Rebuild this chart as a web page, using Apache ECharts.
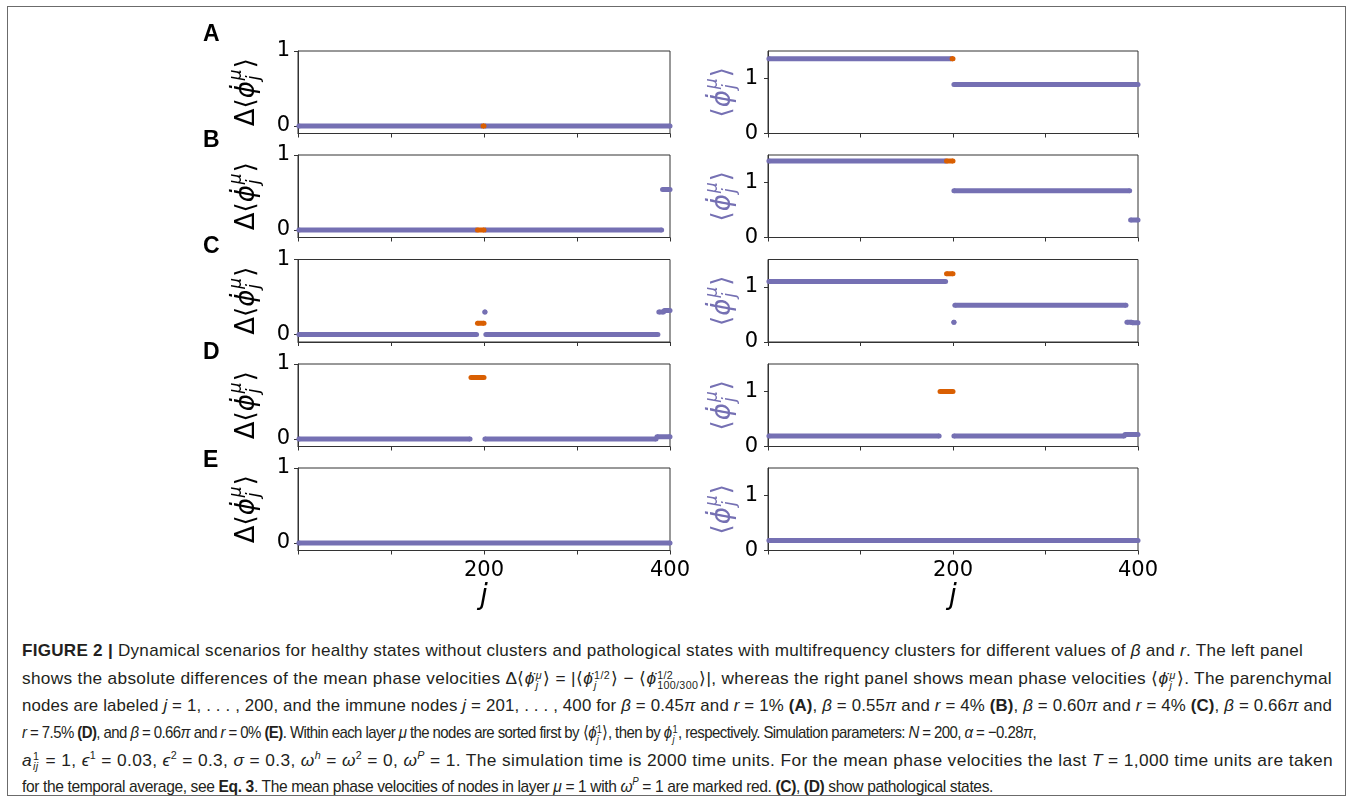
<!DOCTYPE html>
<html>
<head>
<meta charset="utf-8">
<script src="https://cdn.jsdelivr.net/npm/echarts@6/dist/echarts.min.js"></script>
<style>
  html, body { margin: 0; padding: 0; background: #fff; }
  #frame {
    position: absolute; left: 7px; top: 6px; width: 1339px; height: 790px;
    border: 1px solid #6b6b6b; box-sizing: border-box;
  }
  #chart { position: absolute; left: 0; top: 0; width: 1354px; height: 620px; }
  #caption {
    position: absolute; left: 22px; top: 638px;
    font-family: "Liberation Sans Narrow", "Liberation Sans", Arial, sans-serif;
    font-size: 17px; color: #231f20;
  }
  #caption .ln { position: absolute; left: 0; white-space: nowrap; transform-origin: 0 50%; }
  #caption b { font-weight: bold; }
  .ss { display: inline-flex; flex-direction: column; vertical-align: middle;
        font-size: 0.62em; line-height: 0.95; margin: 0 1px; text-align: left; }
  .sp { font-size: 0.62em; }
</style>
</head>
<body>
<div id="frame"></div>
<div id="chart"></div>
<div id="caption"></div>
<script>
// runs of sorted nodes: [first j, last j, value]
const diffBlueA = [[1, 198, 0], [201, 400, 0]];
const diffRedA = [[199, 200, 0]];
const velBlueA = [[1, 198, 1.36], [201, 400, 0.89]];
const velRedA = [[199, 200, 1.36]];

const diffBlueB = [[1, 192, 0], [201, 391, 0], [392, 400, 0.54]];
const diffRedB = [[193, 200, 0]];
const velBlueB = [[1, 192, 1.39], [201, 391, 0.85], [392, 400, 0.32]];
const velRedB = [[193, 200, 1.39]];

const diffBlueC = [[1, 192, 0], [201, 201, 0.30], [202, 387, 0], [388, 393, 0.30], [394, 400, 0.32]];
const diffRedC = [[193, 200, 0.15]];
const velBlueC = [[1, 192, 1.10], [201, 201, 0.36], [202, 387, 0.67], [388, 393, 0.36], [394, 400, 0.35]];
const velRedC = [[193, 200, 1.24]];

const diffBlueD = [[1, 185, 0], [201, 385, 0], [386, 400, 0.03]];
const diffRedD = [[186, 200, 0.82]];
const velBlueD = [[1, 185, 0.19], [201, 385, 0.19], [386, 400, 0.22]];
const velRedD = [[186, 200, 1.00]];

const diffBlueE = [[1, 400, 0]];
const diffRedE = [];
const velBlueE = [[1, 400, 0.18]];
const velRedE = [];

const panelLetters = ['A', 'B', 'C', 'D', 'E'];
const xTicks = [0, 100, 200, 300, 400];
const xTickLabels = ['', '', '200', '', '400'];
const diffTicks = [0, 1];
const velTicks = [0, 1];

const rows = [
  [diffBlueA, diffRedA, velBlueA, velRedA],
  [diffBlueB, diffRedB, velBlueB, velRedB],
  [diffBlueC, diffRedC, velBlueC, velRedC],
  [diffBlueD, diffRedD, velBlueD, velRedD],
  [diffBlueE, diffRedE, velBlueE, velRedE]
];

const BLUE = '#7570b3';
const RED = '#d95f02';
const AXIS = '#333';
const TICK_FONT = 'DejaVu Sans';

const rowTops = [51, 155, 259.5, 364, 468];
const rowH = 82.5;
const leftX = 298, leftW = 372;
const rightX = 768, rightW = 370;
const letterY = [34.5, 141, 246.5, 353, 461];

const chart = echarts.init(document.getElementById('chart'));

const grids = [], xAxes = [], yAxes = [], series = [], graphics = [];

function runSeries(runs, idx, color, z) {
  runs.forEach(r => {
    series.push({
      type: 'line',
      xAxisIndex: idx,
      yAxisIndex: idx,
      data: [[r[0], r[2]], [r[1], r[2]]],
      symbol: 'circle',
      symbolSize: 5,
      showSymbol: true,
      itemStyle: { color: color, borderWidth: 0 },
      lineStyle: { color: color, width: 5 },
      silent: true,
      animation: false,
      z: z
    });
  });
}

// measure pieces of the rotated y labels
const mctx = document.createElement('canvas').getContext('2d');
function tw(text, size, italic) {
  mctx.font = (italic ? 'italic ' : '') + size + 'px "' + TICK_FONT + '"';
  return mctx.measureText(text).width;
}

function yLabel(cx, cy, withDelta, color) {
  const big = 26, small = 17;
  const parts = [];
  let x = 0;
  const head = withDelta ? 'Δ⟨' : '⟨';
  parts.push({ text: head, x: x, y: 0, size: big, italic: false });
  x += tw(head, big, false);
  parts.push({ text: 'ϕ̇', x: x, y: 0, size: big, italic: true });
  x += tw('ϕ', big, true) + 1;
  parts.push({ text: 'μ', x: x, y: -10, size: small, italic: true });
  parts.push({ text: 'j', x: x, y: 8, size: small, italic: true });
  x += Math.max(tw('μ', small, true), tw('j', small, true)) + 1;
  parts.push({ text: '⟩', x: x, y: 0, size: big, italic: false });
  x += tw('⟩', big, false);
  const total = x;
  graphics.push({
    type: 'group',
    x: cx,
    y: cy,
    rotation: Math.PI / 2,
    silent: true,
    children: parts.map(p => ({
      type: 'text',
      x: p.x - total / 2,
      y: p.y,
      style: {
        text: p.text,
        fill: color,
        fontFamily: TICK_FONT,
        fontSize: p.size,
        fontStyle: p.italic ? 'italic' : 'normal',
        verticalAlign: 'middle',
        align: 'left'
      }
    }))
  });
}

rows.forEach((row, r) => {
  const bottom = r === rows.length - 1;
  [0, 1].forEach(side => {
    const idx = r * 2 + side;
    const isDiff = side === 0;
    grids.push({
      left: isDiff ? leftX : rightX,
      top: rowTops[r],
      width: isDiff ? leftW : rightW,
      height: rowH,
      show: true,
      borderColor: AXIS,
      borderWidth: 1,
      backgroundColor: 'transparent',
      containLabel: false
    });
    xAxes.push({
      type: 'value',
      gridIndex: idx,
      min: 0,
      max: 400,
      interval: 100,
      splitLine: { show: false },
      axisLine: { show: true, onZero: false, lineStyle: { color: AXIS, width: 1 } },
      axisTick: { show: true, length: 4, lineStyle: { color: AXIS } },
      axisLabel: {
        show: bottom,
        margin: 10,
        color: '#000',
        fontFamily: TICK_FONT,
        fontSize: 21,
        formatter: v => xTickLabels[xTicks.indexOf(v)] || ''
      },
      name: bottom ? 'j' : '',
      nameLocation: 'middle',
      nameGap: 32,
      nameTextStyle: { color: '#000', fontFamily: TICK_FONT, fontStyle: 'italic', fontSize: 28 }
    });
    const ticks = isDiff ? diffTicks : velTicks;
    yAxes.push({
      type: 'value',
      gridIndex: idx,
      min: isDiff ? -0.1 : 0,
      max: isDiff ? 1 : 1.5,
      splitLine: { show: false },
      axisLine: { show: true, onZero: false, lineStyle: { color: AXIS, width: 1 } },
      axisTick: { show: true, length: 4, customValues: ticks, lineStyle: { color: AXIS } },
      axisLabel: {
        show: true,
        customValues: ticks,
        margin: isDiff ? 8 : 10,
        color: '#000',
        fontFamily: TICK_FONT,
        fontSize: 21
      }
    });
    runSeries(isDiff ? row[0] : row[2], idx, BLUE, 2);
    runSeries(isDiff ? row[1] : row[3], idx, RED, 3);
    const cy = rowTops[r] + rowH / 2;
    if (isDiff) yLabel(247, cy, true, '#000');
    else yLabel(723, cy, false, BLUE);
  });
  graphics.push({
    type: 'text',
    x: 203,
    y: letterY[r],
    silent: true,
    style: {
      text: panelLetters[r],
      fill: '#000',
      fontFamily: 'Liberation Sans',
      fontWeight: 'bold',
      fontSize: 23,
      verticalAlign: 'middle'
    }
  });
});

chart.setOption({
  animation: false,
  grid: grids,
  xAxis: xAxes,
  yAxis: yAxes,
  series: series,
  graphic: graphics
});

// caption
const ssJ = (sup, sub) => '<span class="ss"><span>' + sup + '</span><span>' + sub + '</span></span>';
const phid = 'ϕ̇';
const capLines = [
  '<b>FIGURE 2 |</b> Dynamical scenarios for healthy states without clusters and pathological states with multifrequency clusters for different values of <i>β</i> and <i>r</i>. The left panel',
  'shows the absolute differences of the mean phase velocities Δ⟨<i>' + phid + '</i>' + ssJ('<i>μ</i>', '<i>j</i>') + '⟩ = |⟨<i>' + phid + '</i>' + ssJ('1/2', '<i>j</i>') + '⟩ − ⟨<i>' + phid + '</i>' + ssJ('1/2', '100/300') + '⟩|, whereas the right panel shows mean phase velocities ⟨<i>' + phid + '</i>' + ssJ('<i>μ</i>', '<i>j</i>') + '⟩. The parenchymal',
  'nodes are labeled <i>j</i> = 1, . . . , 200, and the immune nodes <i>j</i> = 201, . . . , 400 for <i>β</i> = 0.45<i>π</i> and <i>r</i> = 1% <b>(A)</b>, <i>β</i> = 0.55<i>π</i> and <i>r</i> = 4% <b>(B)</b>, <i>β</i> = 0.60<i>π</i> and <i>r</i> = 4% <b>(C)</b>, <i>β</i> = 0.66<i>π</i> and',
  '<i>r</i> = 7.5% <b>(D)</b>, and <i>β</i> = 0.66<i>π</i> and <i>r</i> = 0% <b>(E)</b>. Within each layer <i>μ</i> the nodes are sorted first by ⟨<i>' + phid + '</i>' + ssJ('1', '<i>j</i>') + '⟩, then by <i>ϕ</i>' + ssJ('1', '<i>j</i>') + ', respectively. Simulation parameters: <i>N</i> = 200, <i>α</i> = −0.28<i>π</i>,',
  '<i>a</i>' + ssJ('1', '<i>ij</i>') + ' = 1, <i>ϵ</i><sup class="sp">1</sup> = 0.03, <i>ϵ</i><sup class="sp">2</sup> = 0.3, <i>σ</i> = 0.3, <i>ω</i><sup class="sp"><i>h</i></sup> = <i>ω</i><sup class="sp">2</sup> = 0, <i>ω</i><sup class="sp"><i>P</i></sup> = 1. The simulation time is 2000 time units. For the mean phase velocities the last <i>T</i> = 1,000 time units are taken',
  'for the temporal average, see <b>Eq. 3</b>. The mean phase velocities of nodes in layer <i>μ</i> = 1 with <i>ω</i><sup class="sp"><i>P</i></sup> = 1 are marked red. <b>(C)</b>, <b>(D)</b> show pathological states.'
];
const capCenters = [651, 679, 706, 733, 760, 786];
const capRight = [1303, 1332, 1332, 1036, 1333, 993];
const cap = document.getElementById('caption');
const lineEls = capLines.map(html => {
  const d = document.createElement('div');
  d.className = 'ln';
  d.innerHTML = html;
  cap.appendChild(d);
  return d;
});
const widths = lineEls.map(d => d.getBoundingClientRect().width);
const ratios = widths.map((w, i) => (capRight[i] - 22) / w);
const common = Math.exp(ratios.reduce((a, b) => a + Math.log(b), 0) / ratios.length);
lineEls.forEach((d, i) => {
  const h = d.getBoundingClientRect().height;
  d.style.top = (capCenters[i] - 638 - h / 2) + 'px';
  const sc = Math.sqrt(ratios[i] * common);
  const chars = d.textContent.length;
  const ls = ((capRight[i] - 22) / sc - widths[i]) / chars;
  d.style.letterSpacing = ls + 'px';
  const w2 = d.getBoundingClientRect().width;
  d.style.transform = 'scaleX(' + ((capRight[i] - 22) / w2) + ')';
});
</script>
</body>
</html>
